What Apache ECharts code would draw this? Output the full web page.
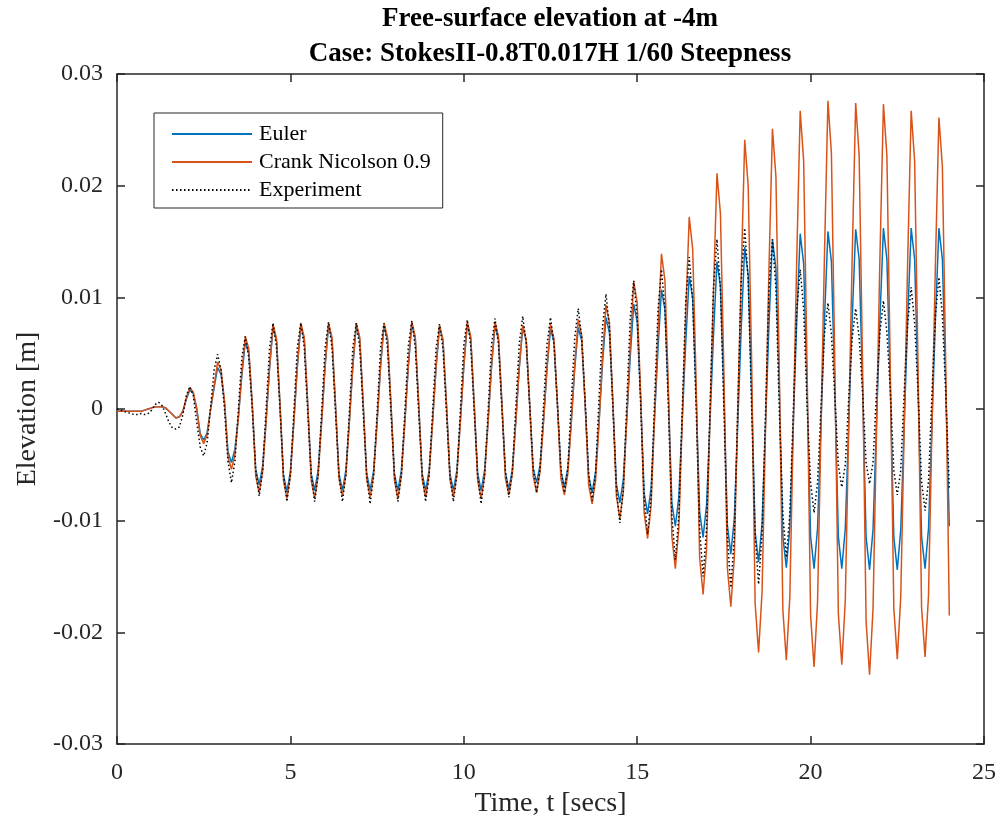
<!DOCTYPE html>
<html>
<head>
<meta charset="utf-8">
<title>Free-surface elevation at -4m</title>
<script src="https://cdn.jsdelivr.net/npm/echarts@6/dist/echarts.min.js"></script>
<style>
  html, body { margin: 0; padding: 0; background: #fff; }
  #chart { width: 1000px; height: 825px; }
</style>
</head>
<body>
<div id="chart"></div>
<script>
// samples every 0.1 s from t = 0 to t = 24 s (241 values per series)
const SAMPLE_STEP = 0.1;
const SERIES_NAMES = ["Euler", "Crank Nicolson 0.9", "Experiment"];
const X_TICKS = [0, 5, 10, 15, 20, 25];
const Y_TICKS = [-0.03, -0.02, -0.01, 0, 0.01, 0.02, 0.03];

// one row per wave period (0.8 s): trough ... peak ... before next trough
const euler = [
  -0.0002,
  -0.0002, -0.0002, -0.0002, -0.0002, -0.0002, -0.0002, -0.0002, -0.0001,
  0.0000, 0.0001, 0.0002, 0.0002, 0.0002, 0.0001, -0.0002, -0.0005,
  -0.0008, -0.0007, -0.0002, 0.0009, 0.0017, 0.0014, 0.0000, -0.0022,
  -0.0028, -0.0021, 0.0000, 0.0019, 0.0037, 0.0031, 0.0006, -0.0038,
  -0.0048, -0.0036, -0.0007, 0.0030, 0.0060, 0.0050, 0.0004, -0.0054,
  -0.0068, -0.0051, -0.0010, 0.0037, 0.0073, 0.0061, 0.0004, -0.0059,
  -0.0074, -0.0056, -0.0011, 0.0038, 0.0075, 0.0062, 0.0004, -0.0058,
  -0.0073, -0.0055, -0.0011, 0.0038, 0.0075, 0.0062, 0.0004, -0.0058,
  -0.0073, -0.0055, -0.0011, 0.0038, 0.0075, 0.0062, 0.0004, -0.0058,
  -0.0073, -0.0055, -0.0011, 0.0038, 0.0075, 0.0062, 0.0004, -0.0058,
  -0.0073, -0.0055, -0.0011, 0.0038, 0.0076, 0.0063, 0.0004, -0.0058,
  -0.0073, -0.0055, -0.0011, 0.0037, 0.0074, 0.0061, 0.0004, -0.0058,
  -0.0073, -0.0055, -0.0011, 0.0038, 0.0076, 0.0063, 0.0004, -0.0058,
  -0.0073, -0.0055, -0.0011, 0.0038, 0.0075, 0.0062, 0.0004, -0.0057,
  -0.0072, -0.0054, -0.0011, 0.0037, 0.0073, 0.0061, 0.0004, -0.0053,
  -0.0066, -0.0050, -0.0010, 0.0036, 0.0072, 0.0060, 0.0004, -0.0056,
  -0.0070, -0.0053, -0.0011, 0.0037, 0.0073, 0.0061, 0.0004, -0.0060,
  -0.0075, -0.0056, -0.0011, 0.0041, 0.0082, 0.0068, 0.0004, -0.0067,
  -0.0084, -0.0063, -0.0008, 0.0047, 0.0094, 0.0078, 0.0009, -0.0075,
  -0.0094, -0.0071, -0.0008, 0.0054, 0.0107, 0.0089, 0.0011, -0.0084,
  -0.0105, -0.0079, -0.0009, 0.0060, 0.0119, 0.0099, 0.0012, -0.0092,
  -0.0115, -0.0086, -0.0010, 0.0066, 0.0132, 0.0110, 0.0014, -0.0104,
  -0.0130, -0.0098, -0.0013, 0.0073, 0.0145, 0.0120, 0.0014, -0.0110,
  -0.0137, -0.0103, -0.0014, 0.0076, 0.0152, 0.0126, 0.0015, -0.0114,
  -0.0142, -0.0107, -0.0014, 0.0079, 0.0157, 0.0130, 0.0015, -0.0114,
  -0.0143, -0.0107, -0.0014, 0.0080, 0.0159, 0.0132, 0.0016, -0.0114,
  -0.0143, -0.0107, -0.0013, 0.0081, 0.0161, 0.0134, 0.0017, -0.0115,
  -0.0144, -0.0108, -0.0013, 0.0081, 0.0162, 0.0134, 0.0017, -0.0115,
  -0.0144, -0.0108, -0.0013, 0.0081, 0.0162, 0.0134, 0.0017, -0.0114,
  -0.0143, -0.0107, -0.0013, 0.0081, 0.0162, 0.0134, 0.0017, -0.0105
];

const crankNicolson = [
  -0.0002,
  -0.0002, -0.0002, -0.0002, -0.0002, -0.0002, -0.0002, -0.0002, -0.0001,
  0.0000, 0.0001, 0.0002, 0.0002, 0.0002, 0.0001, -0.0002, -0.0005,
  -0.0008, -0.0007, -0.0002, 0.0010, 0.0019, 0.0015, 0.0000, -0.0024,
  -0.0031, -0.0023, 0.0000, 0.0021, 0.0042, 0.0035, 0.0007, -0.0043,
  -0.0054, -0.0041, -0.0008, 0.0033, 0.0065, 0.0054, 0.0004, -0.0060,
  -0.0075, -0.0056, -0.0011, 0.0038, 0.0076, 0.0063, 0.0004, -0.0064,
  -0.0080, -0.0060, -0.0012, 0.0039, 0.0077, 0.0064, 0.0004, -0.0064,
  -0.0080, -0.0060, -0.0012, 0.0039, 0.0077, 0.0064, 0.0004, -0.0062,
  -0.0078, -0.0059, -0.0012, 0.0039, 0.0077, 0.0064, 0.0004, -0.0063,
  -0.0079, -0.0059, -0.0012, 0.0039, 0.0077, 0.0064, 0.0004, -0.0064,
  -0.0080, -0.0060, -0.0012, 0.0039, 0.0078, 0.0065, 0.0004, -0.0063,
  -0.0079, -0.0059, -0.0012, 0.0038, 0.0075, 0.0062, 0.0004, -0.0063,
  -0.0079, -0.0059, -0.0012, 0.0039, 0.0078, 0.0065, 0.0004, -0.0064,
  -0.0080, -0.0060, -0.0012, 0.0039, 0.0078, 0.0065, 0.0004, -0.0062,
  -0.0077, -0.0058, -0.0011, 0.0038, 0.0075, 0.0062, 0.0004, -0.0060,
  -0.0075, -0.0056, -0.0011, 0.0038, 0.0076, 0.0063, 0.0004, -0.0062,
  -0.0077, -0.0058, -0.0012, 0.0040, 0.0080, 0.0066, 0.0004, -0.0068,
  -0.0085, -0.0064, -0.0013, 0.0047, 0.0093, 0.0077, 0.0005, -0.0078,
  -0.0098, -0.0074, -0.0008, 0.0057, 0.0114, 0.0095, 0.0013, -0.0093,
  -0.0116, -0.0087, -0.0007, 0.0070, 0.0139, 0.0115, 0.0018, -0.0114,
  -0.0143, -0.0107, -0.0009, 0.0086, 0.0172, 0.0143, 0.0023, -0.0133,
  -0.0166, -0.0125, -0.0005, 0.0106, 0.0211, 0.0175, 0.0032, -0.0142,
  -0.0177, -0.0133, 0.0001, 0.0121, 0.0241, 0.0200, 0.0042, -0.0174,
  -0.0218, -0.0164, -0.0018, 0.0126, 0.0251, 0.0208, 0.0029, -0.0180,
  -0.0225, -0.0169, -0.0016, 0.0134, 0.0267, 0.0222, 0.0033, -0.0185,
  -0.0231, -0.0173, -0.0015, 0.0138, 0.0276, 0.0229, 0.0036, -0.0183,
  -0.0229, -0.0172, -0.0015, 0.0137, 0.0274, 0.0227, 0.0036, -0.0190,
  -0.0238, -0.0179, -0.0020, 0.0137, 0.0273, 0.0227, 0.0031, -0.0179,
  -0.0224, -0.0168, -0.0015, 0.0134, 0.0267, 0.0222, 0.0034, -0.0178,
  -0.0222, -0.0167, -0.0016, 0.0131, 0.0261, 0.0217, 0.0032, -0.0185
];

const experiment = [
  0.0000,
  -0.0001, -0.0002, -0.0003, -0.0004, -0.0005, -0.0005, -0.0004, -0.0005,
  -0.0004, -0.0001, 0.0004, 0.0006, 0.0003, -0.0004, -0.0012, -0.0017,
  -0.0018, -0.0016, -0.0005, 0.0012, 0.0020, 0.0012, -0.0012, -0.0034,
  -0.0042, -0.0030, 0.0002, 0.0035, 0.0049, 0.0035, 0.0000, -0.0047,
  -0.0066, -0.0047, 0.0000, 0.0046, 0.0065, 0.0046, 0.0000, -0.0055,
  -0.0078, -0.0055, 0.0000, 0.0055, 0.0077, 0.0055, 0.0000, -0.0059,
  -0.0083, -0.0059, -0.0003, 0.0055, 0.0077, 0.0055, -0.0003, -0.0059,
  -0.0083, -0.0059, -0.0003, 0.0055, 0.0078, 0.0055, -0.0003, -0.0059,
  -0.0083, -0.0059, -0.0003, 0.0055, 0.0077, 0.0055, -0.0003, -0.0060,
  -0.0085, -0.0060, -0.0003, 0.0055, 0.0077, 0.0055, -0.0003, -0.0059,
  -0.0083, -0.0059, -0.0003, 0.0056, 0.0079, 0.0056, -0.0003, -0.0059,
  -0.0083, -0.0059, -0.0003, 0.0054, 0.0076, 0.0054, -0.0003, -0.0059,
  -0.0083, -0.0059, -0.0002, 0.0057, 0.0080, 0.0057, -0.0002, -0.0060,
  -0.0085, -0.0060, -0.0002, 0.0058, 0.0081, 0.0058, -0.0001, -0.0056,
  -0.0079, -0.0056, 0.0002, 0.0059, 0.0083, 0.0059, 0.0003, -0.0053,
  -0.0075, -0.0053, 0.0003, 0.0058, 0.0082, 0.0058, 0.0004, -0.0053,
  -0.0075, -0.0053, 0.0007, 0.0064, 0.0090, 0.0064, 0.0007, -0.0058,
  -0.0082, -0.0058, 0.0010, 0.0073, 0.0103, 0.0073, 0.0001, -0.0072,
  -0.0102, -0.0072, 0.0006, 0.0082, 0.0115, 0.0082, 0.0004, -0.0080,
  -0.0112, -0.0080, 0.0006, 0.0089, 0.0125, 0.0089, 0.0000, -0.0096,
  -0.0135, -0.0096, 0.0000, 0.0097, 0.0136, 0.0097, 0.0000, -0.0107,
  -0.0150, -0.0107, 0.0000, 0.0108, 0.0152, 0.0108, 0.0000, -0.0114,
  -0.0160, -0.0114, 0.0000, 0.0115, 0.0162, 0.0115, 0.0000, -0.0112,
  -0.0157, -0.0112, -0.0003, 0.0108, 0.0152, 0.0108, -0.0004, -0.0094,
  -0.0133, -0.0094, -0.0004, 0.0089, 0.0125, 0.0089, 0.0002, -0.0066,
  -0.0093, -0.0066, 0.0001, 0.0067, 0.0095, 0.0067, 0.0010, -0.0050,
  -0.0070, -0.0050, 0.0010, 0.0064, 0.0090, 0.0064, 0.0015, -0.0048,
  -0.0067, -0.0048, 0.0015, 0.0069, 0.0097, 0.0069, 0.0016, -0.0055,
  -0.0077, -0.0055, 0.0016, 0.0077, 0.0109, 0.0077, 0.0014, -0.0065,
  -0.0091, -0.0065, 0.0014, 0.0084, 0.0118, 0.0084, 0.0012, -0.0072
];

const AXIS_COLOR = "#262626";
const FONT = '"Liberation Serif", "Times New Roman", serif';

function toPoints(values) {
  return values.map((v, i) => [Math.round(i * SAMPLE_STEP * 10) / 10, v]);
}

function fmtY(v) {
  return String(Math.round(v * 100) / 100);
}

function boxAxis(extra) {
  return Object.assign({
    axisLine: { show: true, onZero: false, lineStyle: { color: AXIS_COLOR, width: 1.5 } },
    axisTick: { show: true, inside: true, length: 8, lineStyle: { color: AXIS_COLOR, width: 1.5 } },
    splitLine: { show: false },
  }, extra);
}

const chart = echarts.init(document.getElementById("chart"), null, { renderer: "canvas" });

chart.setOption({
  animation: false,
  backgroundColor: "#ffffff",
  textStyle: { fontFamily: FONT },
  grid: { left: 117, right: 16, top: 74, bottom: 81 },
  graphic: [
    {
      type: "text", x: 550, y: 19,
      style: {
        text: "Free-surface elevation at -4m",
        align: "center", verticalAlign: "middle", textAlign: "center", textVerticalAlign: "middle",
        font: 'bold 27px ' + FONT, fill: "#000",
      },
    },
    {
      type: "text", x: 550, y: 54,
      style: {
        text: "Case: StokesII-0.8T0.017H 1/60 Steepness",
        align: "center", verticalAlign: "middle", textAlign: "center", textVerticalAlign: "middle",
        font: 'bold 27px ' + FONT, fill: "#000",
      },
    },
  ],
  legend: {
    orient: "vertical",
    left: 154, top: 113,
    padding: [10, 12, 7, 17],
    itemGap: 6,
    itemWidth: 80, itemHeight: 14,
    backgroundColor: "#ffffff",
    borderColor: AXIS_COLOR, borderWidth: 1,
    itemStyle: { opacity: 0 },
    textStyle: { fontFamily: FONT, fontSize: 22, color: "#000", padding: [0, 0, 0, 2] },
    data: SERIES_NAMES,
  },
  xAxis: [
    boxAxis({
      type: "value", position: "bottom", min: X_TICKS[0], max: X_TICKS[X_TICKS.length - 1], interval: 5,
      name: "Time, t [secs]", nameLocation: "middle", nameGap: 45,
      nameTextStyle: { fontFamily: FONT, fontSize: 28, color: AXIS_COLOR },
      axisLabel: { margin: 17, fontFamily: FONT, fontSize: 24, color: AXIS_COLOR },
    }),
    boxAxis({
      type: "value", position: "top", min: X_TICKS[0], max: X_TICKS[X_TICKS.length - 1], interval: 5,
      axisLabel: { show: false },
    }),
  ],
  yAxis: [
    boxAxis({
      type: "value", position: "left", min: Y_TICKS[0], max: Y_TICKS[Y_TICKS.length - 1], interval: 0.01,
      name: "Elevation [m]", nameLocation: "middle", nameGap: 73,
      nameTextStyle: { fontFamily: FONT, fontSize: 28, color: AXIS_COLOR },
      axisLabel: { margin: 14, fontFamily: FONT, fontSize: 24, color: AXIS_COLOR, formatter: fmtY },
    }),
    boxAxis({
      type: "value", position: "right", min: Y_TICKS[0], max: Y_TICKS[Y_TICKS.length - 1], interval: 0.01,
      axisLabel: { show: false },
    }),
  ],
  series: [
    {
      name: SERIES_NAMES[0], type: "line", data: toPoints(euler),
      symbol: "none", lineStyle: { color: "#0072BD", width: 1.5 }, itemStyle: { color: "#0072BD" },
    },
    {
      name: SERIES_NAMES[1], type: "line", data: toPoints(crankNicolson),
      symbol: "none", lineStyle: { color: "#D95319", width: 1.5 }, itemStyle: { color: "#D95319" },
    },
    {
      name: SERIES_NAMES[2], type: "line", data: toPoints(experiment),
      symbol: "none", lineStyle: { color: "#000000", width: 1.5, type: [1.5, 2.5] }, itemStyle: { color: "#000000" },
    },
  ],
});
</script>
</body>
</html>
